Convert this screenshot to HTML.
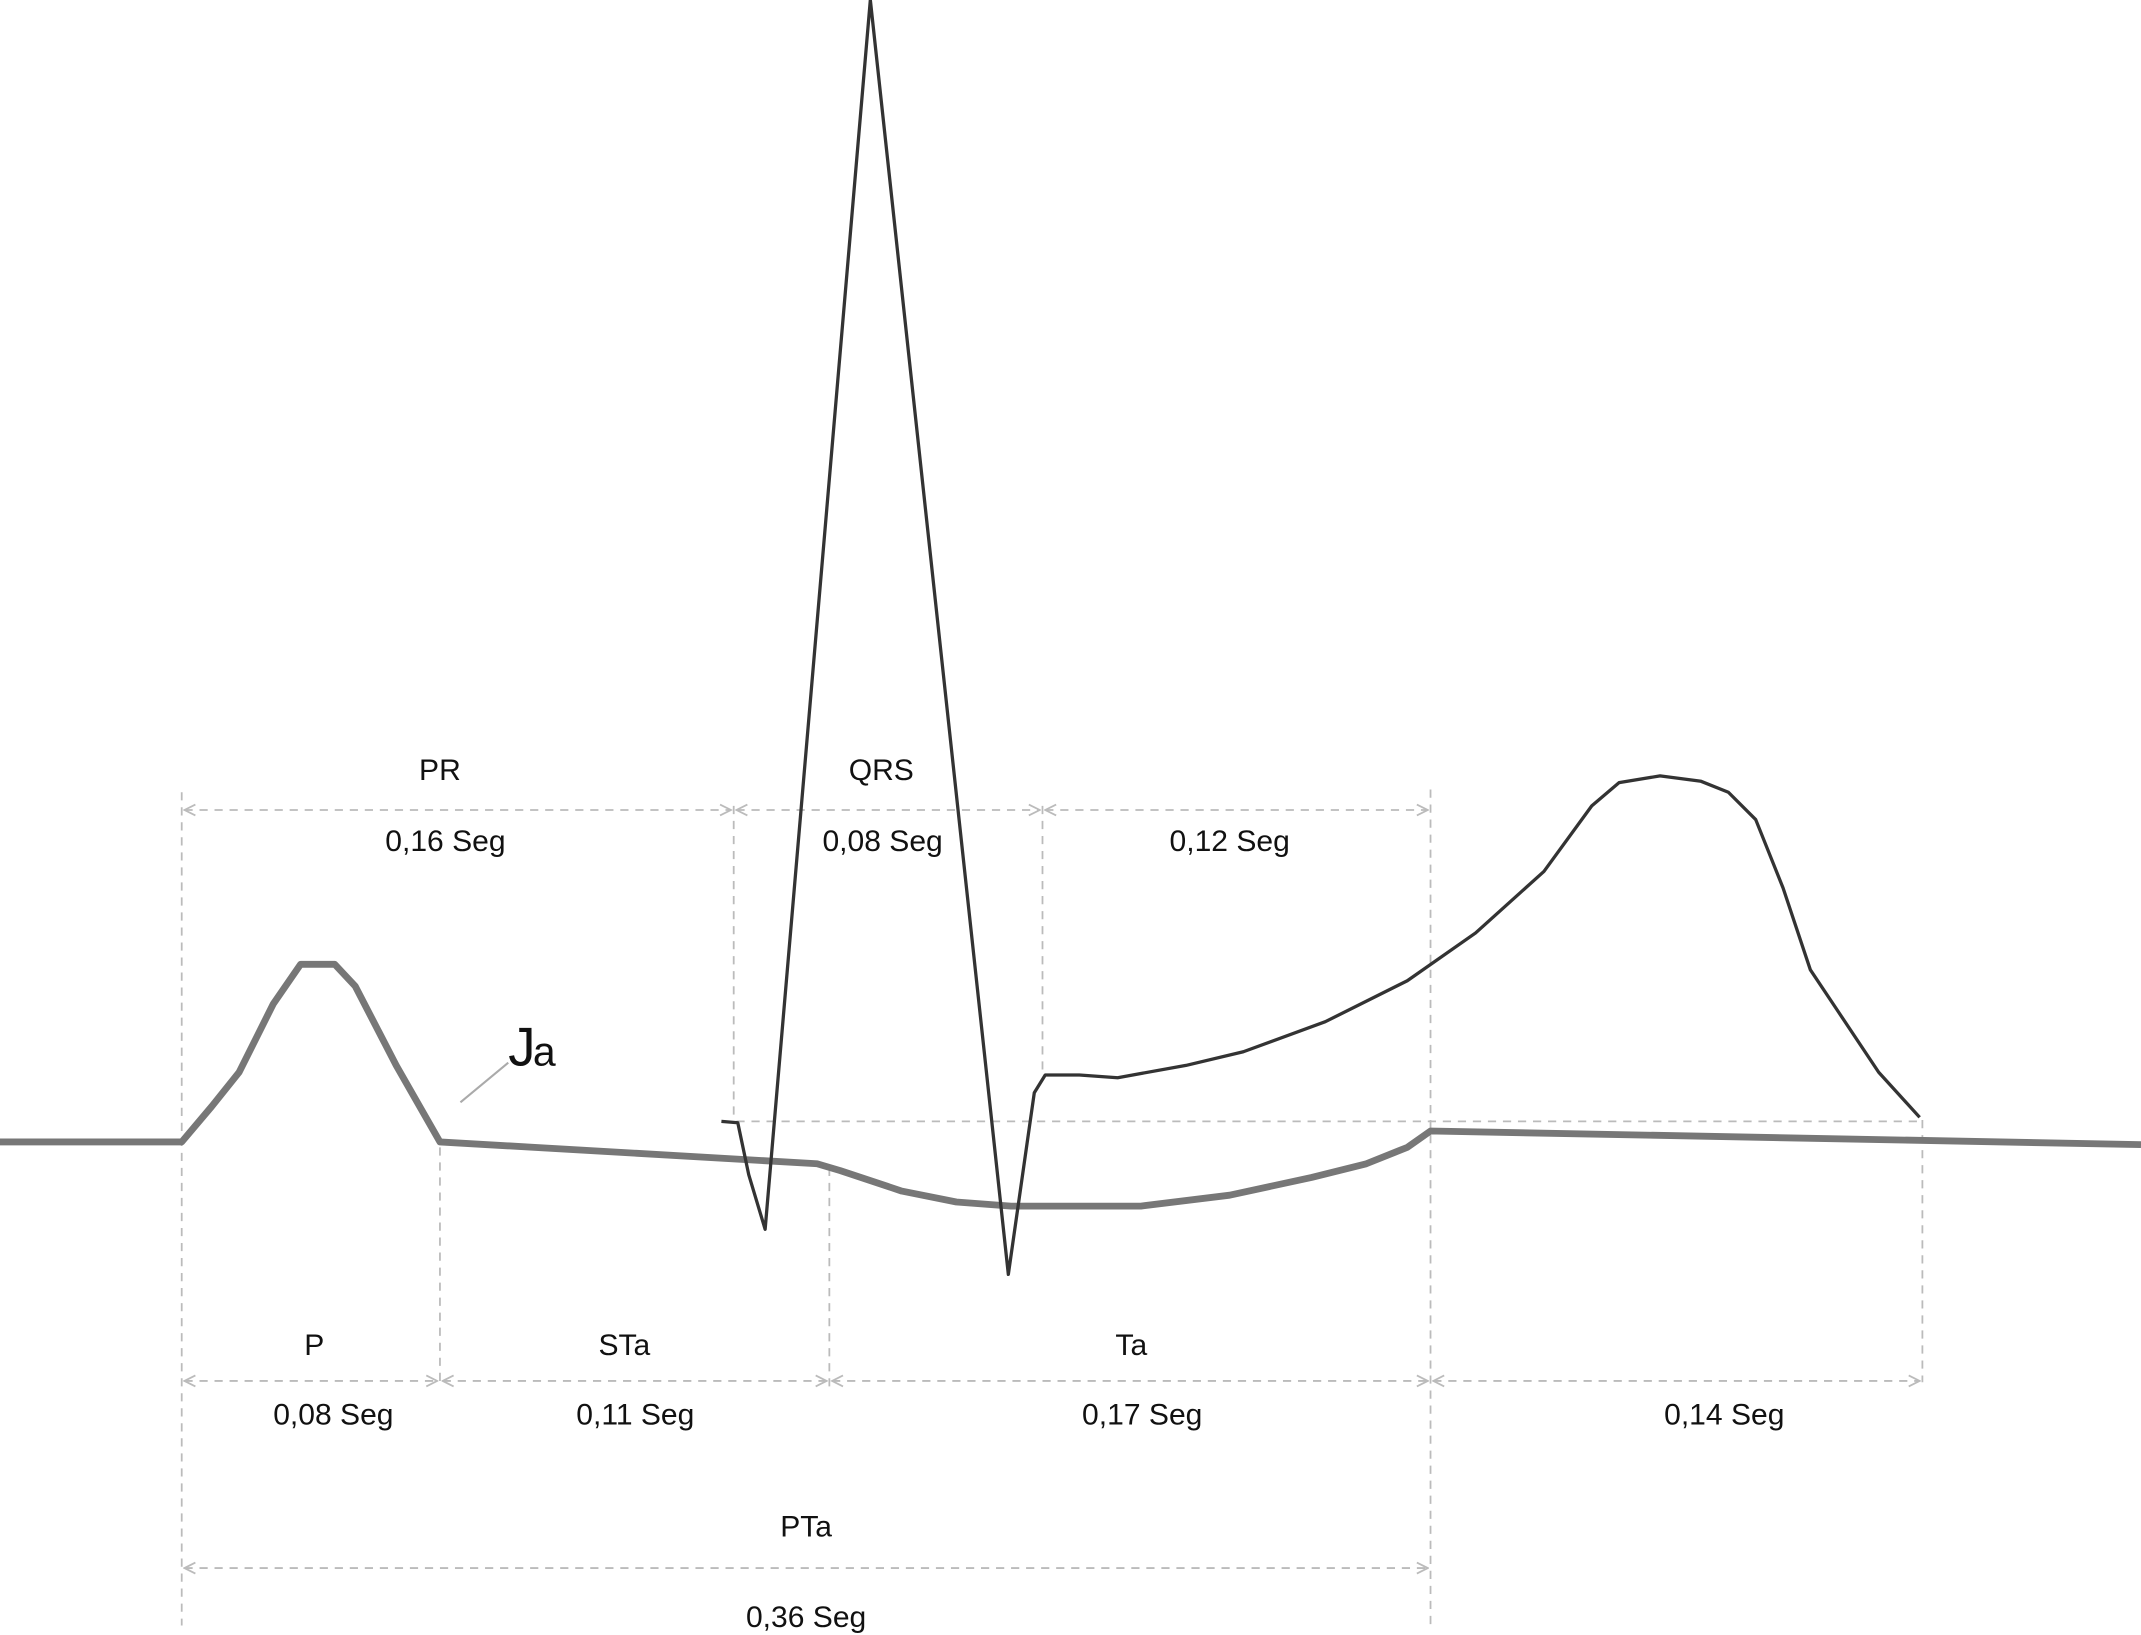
<!DOCTYPE html>
<html><head><meta charset="utf-8"><style>
html,body{margin:0;padding:0;background:#fff;}
svg{display:block;}
text{font-family:"Liberation Sans",sans-serif;fill:#111;}
</style></head><body>
<svg id="chart" width="2141" height="1635" viewBox="0 0 1567 1197" preserveAspectRatio="none" xmlns="http://www.w3.org/2000/svg">
<defs>
<marker id="arr" markerWidth="10" markerHeight="10" refX="9" refY="5" orient="auto-start-reverse" markerUnits="userSpaceOnUse"><path d="M1,1 L9,5 L1,9" fill="none" stroke="#bbb" stroke-width="1.3"/></marker>
</defs>
<g id="guides"></g>
<g id="traces"></g>
<g id="labels"></g>
<text x="372" y="780" font-size="40">J</text>
<text x="390" y="780" font-size="30">a</text>
<line x1="372" y1="778" x2="337" y2="807" stroke="#aaa" stroke-width="1.5"/>
</svg>
<script>
const atrialX=[0,133,155,175,200,220,245,260,290,322,598,615,660,700,740,835,900,960,1000,1030,1047,1567];
const atrialY=[836,836,810,785,735,706,706,722,780,836,852,857,872,880,883,883,875,862,852,840,828,838];
const ventX=[528,540,548,560,637,738,757,765,790,818,868,910,970,1030,1080,1130,1165,1185,1215,1245,1265,1285,1305,1325,1345,1375,1405];
const ventY=[821,822,860,900,0,933,800,787,787,789,780,770,748,718,683,638,590,573,568,572,580,600,650,710,740,785,818];
const vGuides=[[133,580,1190],[537,590,822],[763,590,785],[1047,578,1190],[322,840,1015],[607,855,1015],[1407,820,1012]];
const hGuides=[[133,537,593,1],[537,763,593,1],[763,1047,593,1],[537,1405,821,0],[133,322,1011,1],[322,607,1011,1],[607,1047,1011,1],[1047,1407,1011,1],[133,1047,1148,1]];
const labelText=["PR","0,16 Seg","QRS","0,08 Seg","0,12 Seg","P","STa","Ta","0,08 Seg","0,11 Seg","0,17 Seg","0,14 Seg","PTa","0,36 Seg"];
const labelX=[322,326,645,646,900,230,457,828,244,465,836,1262,590,590];
const labelY=[571,623,571,623,623,992,992,992,1043,1043,1043,1043,1125,1191];
const NS="http://www.w3.org/2000/svg";
function el(t,a,p){const e=document.createElementNS(NS,t);for(const k in a)e.setAttribute(k,a[k]);p.appendChild(e);return e;}
const G=document.getElementById('guides'),T=document.getElementById('traces'),L=document.getElementById('labels');
vGuides.forEach(v=>{const e=el('line',{x1:v[0],x2:v[0],y1:v[1],y2:v[2],stroke:'#bbb','stroke-width':1.3,'stroke-dasharray':'6,5'},G);

});
hGuides.forEach(h=>{const a={x1:h[0]+2,x2:h[1]-2,y1:h[2],y2:h[2],stroke:'#bbb','stroke-width':1.3,'stroke-dasharray':'6,5'};
if(h[3]){a['marker-start']='url(#arr)';a['marker-end']='url(#arr)';}
const e=el('line',a,G);

});
function pts(xs,ys){return xs.map((x,i)=>x+','+ys[i]).join(' ');}
const a=el('polyline',{points:pts(atrialX,atrialY),fill:'none',stroke:'#777','stroke-width':5,'stroke-linejoin':'round'},T);


const v=el('polyline',{points:pts(ventX,ventY),fill:'none',stroke:'#333','stroke-width':2.4,'stroke-linejoin':'round'},T);


labelText.forEach((s,i)=>{const t=el('text',{x:labelX[i],y:labelY[i],'font-size':22,'text-anchor':'middle'},L);t.textContent=s;

});
</script>
</body></html>
